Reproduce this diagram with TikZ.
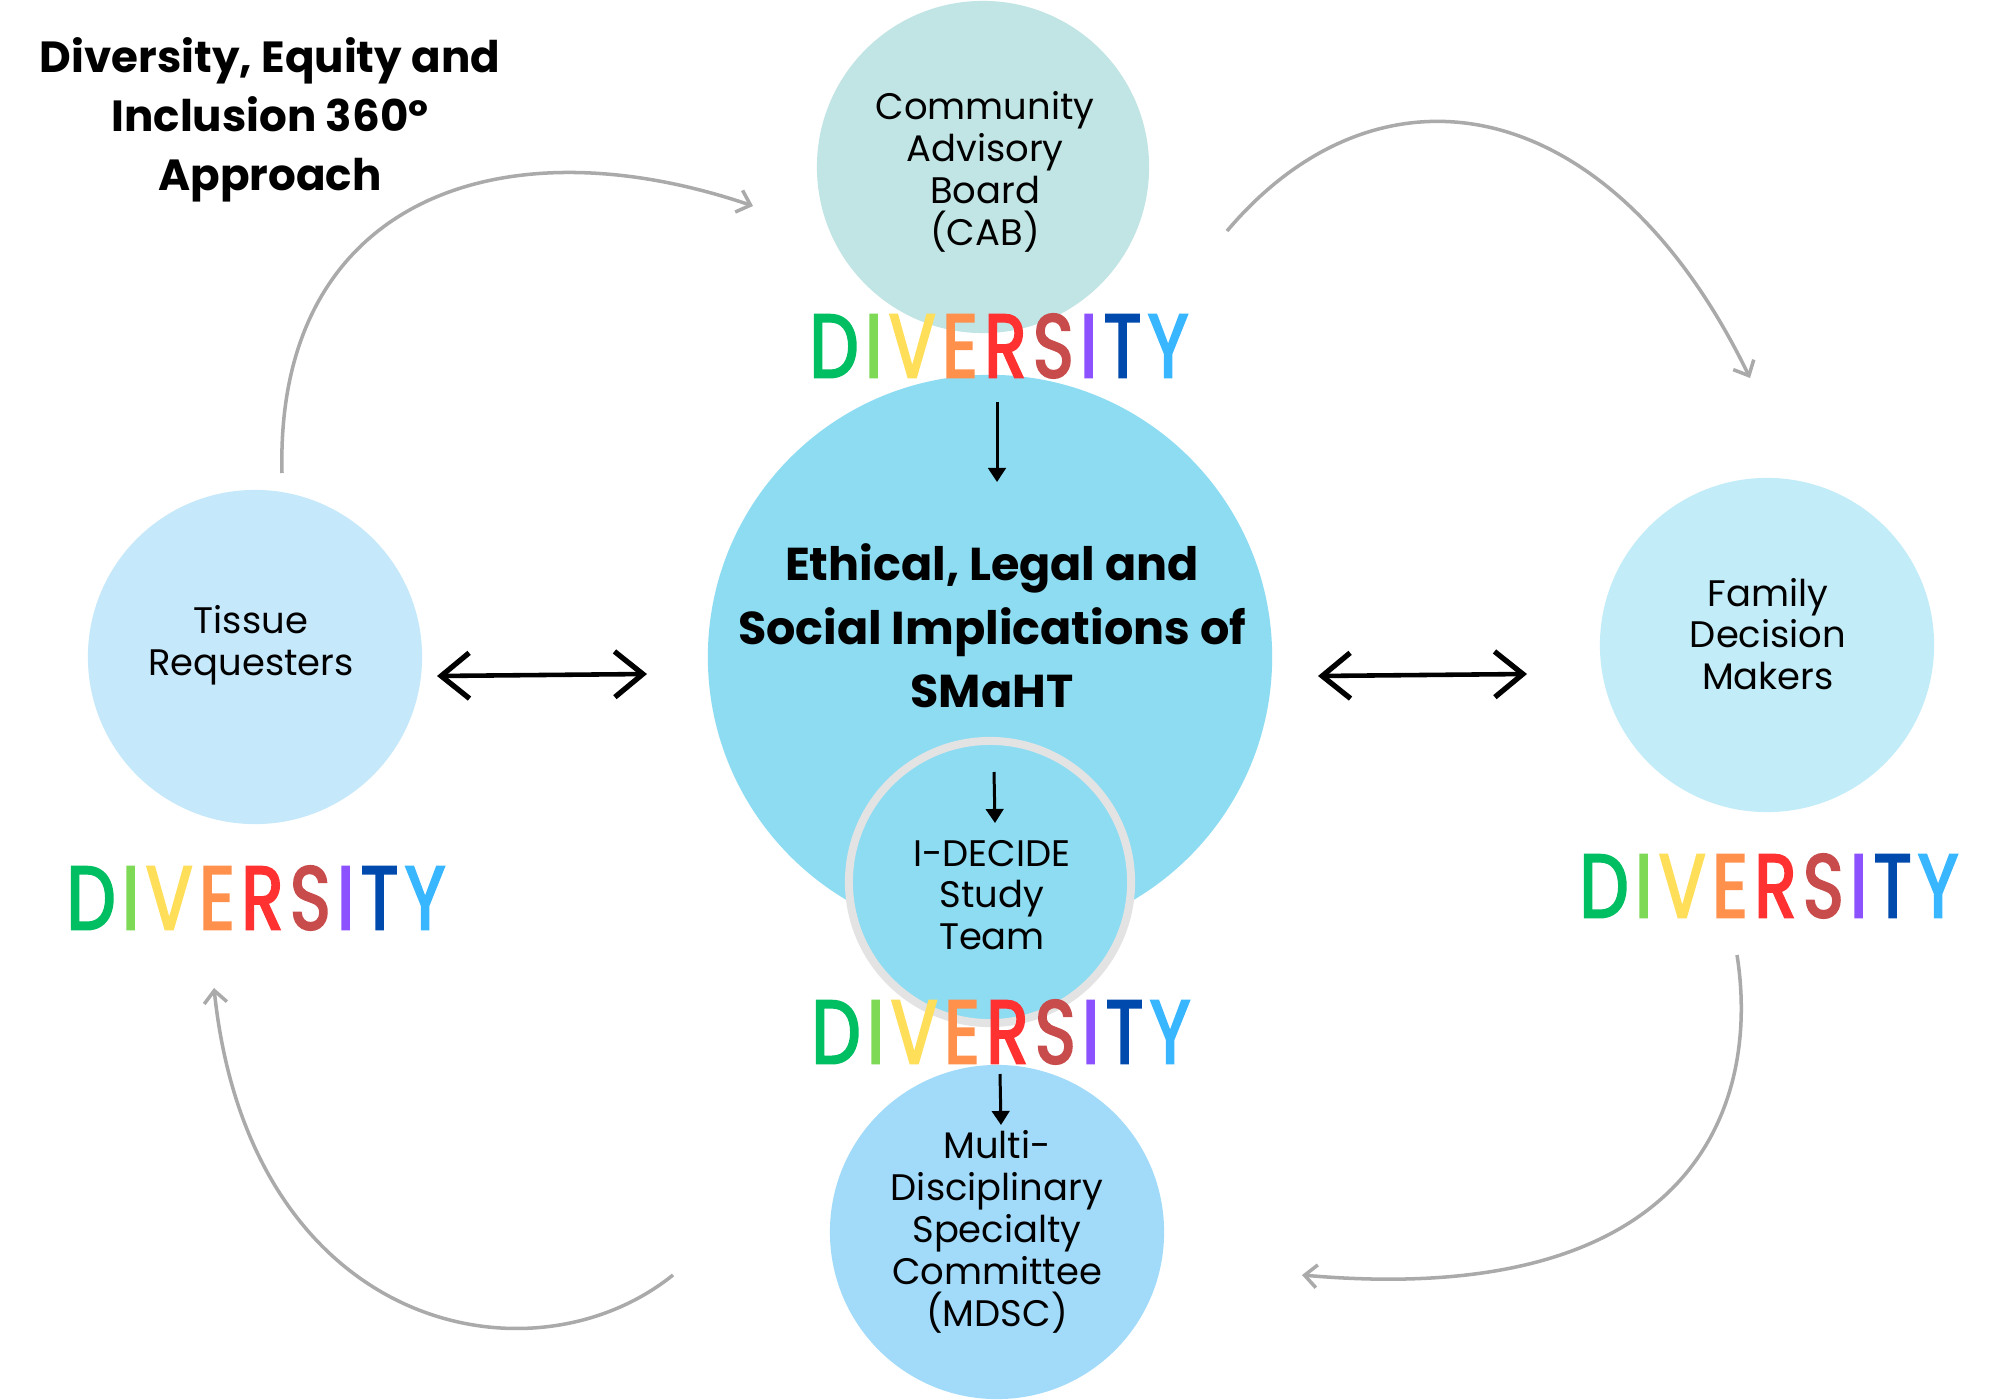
\documentclass[tikz,border=0pt]{standalone}
\usepackage{fontspec}
\setmainfont{Poppins}
\newfontfamily\divfont[FakeStretch=0.77,FakeBold=2.5]{Poppins}
\usetikzlibrary{arrows.meta}
\definecolor{cabc}{HTML}{C1E4E4}
\definecolor{elsic}{HTML}{8DDCF2}
\definecolor{tisc}{HTML}{C5E8FA}
\definecolor{famc}{HTML}{C2ECF8}
\definecolor{mdscc}{HTML}{A2DBFA}
\definecolor{ringc}{HTML}{E3E3E3}
\definecolor{arrg}{HTML}{AAAAAA}
\definecolor{dA}{HTML}{00BF63}
\definecolor{dB}{HTML}{7ED957}
\definecolor{dC}{HTML}{FFDE59}
\definecolor{dD}{HTML}{FF914D}
\definecolor{dE}{HTML}{FF3131}
\definecolor{dF}{HTML}{C94C4C}
\definecolor{dG}{HTML}{8C52FF}
\definecolor{dH}{HTML}{004AAD}
\definecolor{dI}{HTML}{38B6FF}
\newcommand{\dgp}{\hspace{1.9pt}}
\newcommand{\divword}{\textcolor{dA}{D}\dgp\textcolor{dB}{I}\dgp\textcolor{dC}{V}\dgp\textcolor{dD}{E}\dgp\textcolor{dE}{R}\dgp\textcolor{dF}{S}\dgp\textcolor{dG}{I}\dgp\textcolor{dH}{T}\dgp\textcolor{dI}{Y}}
\begin{document}
\begin{tikzpicture}[x=0.01cm,y=-0.01cm,
  bub/.style={circle,inner sep=0pt,outer sep=0pt},
  lbl/.style={align=center,inner sep=0pt,font=\fontsize{10.5}{11.9}\selectfont},
  divlbl/.style={inner sep=0pt,font=\divfont\fontsize{25.5}{30}\selectfont},
  garr/.style={draw=arrg,line width=1pt,-{Straight Barb[length=3.5pt,width=6.5pt]}},
  barr/.style={draw=black,line width=0.85pt,-{Triangle[length=4pt,width=5pt]}},
  darr/.style={draw=black,line width=1.3pt,{Straight Barb[length=8pt,width=13pt,line width=1.5pt]}-{Straight Barb[length=8pt,width=13pt,line width=1.5pt]}}]
\useasboundingbox (0,0) rectangle (2000,1400);
\fill[white] (0,0) rectangle (2000,1400);

% circles
\node[bub,fill=cabc,minimum size=3.32cm] (cab) at (983,167) {};
\node[bub,fill=elsic,minimum size=5.64cm] (elsi) at (990,657) {};
\node[bub,fill=elsic,draw=ringc,line width=0.8mm,minimum size=2.82cm] (idec) at (990,882) {};
\node[bub,fill=tisc,minimum size=3.34cm] (tis) at (255,657) {};
\node[bub,fill=famc,minimum size=3.34cm] (fam) at (1767,645) {};
\node[bub,fill=mdscc,minimum size=3.34cm] (mdsc) at (997,1232) {};

% texts
\node[align=center,inner sep=0pt,font=\bfseries\fontsize{12.4}{16.8}\selectfont] (title) at (270,120) {Diversity, Equity and\\Inclusion 360º\\Approach};
\node[lbl] (cabt) at (985,172) {Community\\Advisory\\Board\\(CAB)};
\node[align=center,inner sep=0pt,font=\bfseries\fontsize{13.1}{18}\selectfont] (elsit) at (992,626) {Ethical, Legal and\\Social Implications of\\SMaHT};
\node[lbl] (idect) at (992,895) {I-DECIDE\\Study\\Team};
\node[lbl] (tist) at (251,645) {Tissue\\Requesters};
\node[lbl] (famt) at (1768,634) {Family\\Decision\\Makers};
\node[lbl] (mdsct) at (997,1232) {Multi-\\Disciplinary\\Specialty\\Committee\\(MDSC)};

% DIVERSITY labels
\node[divlbl] (divtop) at (999,346) {\divword};
\node[divlbl] (divleft) at (256,898) {\divword};
\node[divlbl] (divright) at (1769,886) {\divword};
\node[divlbl] (divbot) at (1001,1032) {\divword};

% connector coordinates
\coordinate (g1s) at (282,473); \coordinate (g1e) at (753,206);
\coordinate (g2s) at (1227,231); \coordinate (g2e) at (1750,378);
\coordinate (g3s) at (1737,955); \coordinate (g3e) at (1302,1275);
\coordinate (g4s) at (673,1275); \coordinate (g4e) at (214,988);
\coordinate (b1s) at (997,402); \coordinate (b1e) at (997,482);
\coordinate (b2s) at (994,772); \coordinate (b2e) at (995,823);
\coordinate (b3s) at (1000,1074); \coordinate (b3e) at (1001,1125);
\coordinate (d1s) at (437,676); \coordinate (d1e) at (647,674);
\coordinate (d2s) at (1318,676); \coordinate (d2e) at (1527,674);

% gray cycle arrows
\draw[garr] (g1s) .. controls (275,200) and (500,120) .. (g1e);
\draw[garr] (g2s) .. controls (1380,50) and (1610,90) .. (g2e);
\draw[garr] (g3s) .. controls (1760,1100) and (1700,1310) .. (g3e);
\draw[garr] (g4s) .. controls (530,1390) and (250,1330) .. (g4e);

% black arrows
\draw[barr] (b1s) -- (b1e);
\draw[barr] (b2s) -- (b2e);
\draw[barr] (b3s) -- (b3e);
\draw[darr] (d1s) -- (d1e);
\draw[darr] (d2s) -- (d2e);
\end{tikzpicture}
\end{document}
